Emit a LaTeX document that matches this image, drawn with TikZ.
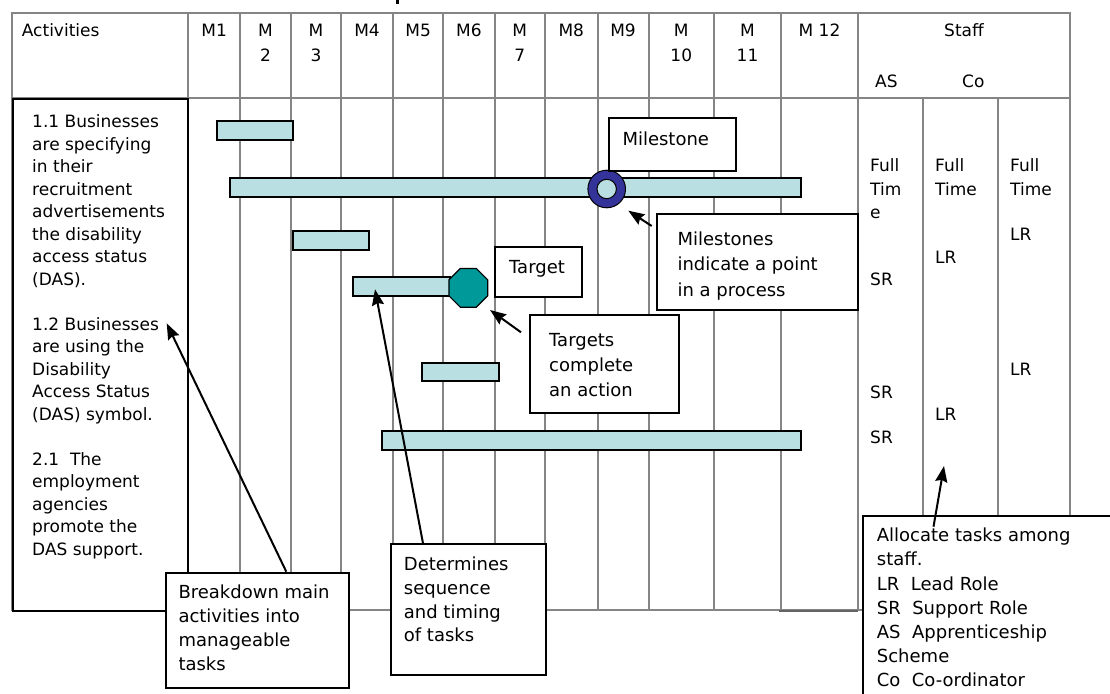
\documentclass[tikz,border=0pt]{standalone}
\usepackage{fontspec}
\setmainfont{DejaVu Sans}
\usetikzlibrary{arrows.meta,shapes.geometric}

\definecolor{gridgray}{HTML}{858585}
\definecolor{barfill}{HTML}{B9DFE2}
\definecolor{ringblue}{HTML}{333399}
\definecolor{targetteal}{HTML}{009999}

\begin{document}
\begin{tikzpicture}[x=1pt,y=-1pt,
  gridline/.style={draw=gridgray,line width=2pt},
  taskbar/.style={draw=black,fill=barfill,line width=2pt},
  panel/.style={draw=black,fill=white,line width=2pt,rectangle,inner sep=0pt,anchor=north west},
  cell/.style={font=\fontsize{17}{22.5}\selectfont,inner sep=0pt,anchor=base west},
  mcell/.style={font=\fontsize{17}{22.5}\selectfont,inner sep=0pt,anchor=base},
  notecell/.style={font=\fontsize{18}{24}\selectfont,inner sep=0pt,anchor=base west},
  para/.style={font={\fontsize{17}{#1}\selectfont},inner sep=0pt,align=left,anchor=north west},
  notepara/.style={font={\fontsize{18}{#1}\selectfont},inner sep=0pt,align=left,anchor=north west},
  pointer/.style={line width=2pt,-{Stealth[length=16pt,width=12pt,inset=2pt]}}]

\useasboundingbox (0,0) rectangle (1110,693);
\clip (0,0) rectangle (1110,693);

% descender of the heading line above the chart
\fill (395.5,0) rectangle (399,4.5);

% ---- table grid ----
\draw[gridline] (11.7,13) rectangle (1070,610);
\draw[gridline] (11.7,98.3) -- (1070,98.3);
\foreach \x in {188.3,240,291,341,393,443.3,494.5,545,597.5,648.5,714,781,858}
  \draw[gridline] (\x,13) -- (\x,610);
\foreach \x in {922.7,997.7}
  \draw[gridline] (\x,98.3) -- (\x,610);
\draw[draw=gridgray!75!black,line width=2.6pt] (779,610.8) -- (858,610.8);

% ---- header row ----
\node[cell] (hAct) at (21.7,36.7) {Activities};
\node[mcell] (hM1) at (214.2,36.7) {M1};
\node[mcell] (hM2) at (265.5,36.7) {M};
\node[mcell] (hM2n) at (265.5,61) {2};
\node[mcell] (hM3) at (316,36.7) {M};
\node[mcell] (hM3n) at (316,61) {3};
\node[mcell] (hM4) at (367,36.7) {M4};
\node[mcell] (hM5) at (418.2,36.7) {M5};
\node[mcell] (hM6) at (468.9,36.7) {M6};
\node[mcell] (hM7) at (519.8,36.7) {M};
\node[mcell] (hM7n) at (519.8,61) {7};
\node[mcell] (hM8) at (571.3,36.7) {M8};
\node[mcell] (hM9) at (623,36.7) {M9};
\node[mcell] (hM10) at (681.3,36.7) {M};
\node[mcell] (hM10n) at (681.3,61) {10};
\node[mcell] (hM11) at (747.5,36.7) {M};
\node[mcell] (hM11n) at (747.5,61) {11};
\node[mcell] (hM12) at (819.5,36.7) {M 12};
\node[mcell] (hStaff) at (964,36.7) {Staff};
\node[cell] (hAS) at (875,87.7) {AS};
\node[cell] (hCo) at (962,87.7) {Co};

% ---- activities column ----
\node[panel,minimum width=175,minimum height=511.7] (actbox) at (11.7,98.3) {};
\node[para=22.5] (acttext) at (32,111.55) {\strut 1.1 Businesses\\are specifying\\in their\\recruitment\\advertisements\\the disability\\access status\\(DAS).\\[22.5pt]1.2 Businesses\\are using the\\Disability\\Access Status\\(DAS) symbol.\\[22.5pt]2.1\ \ The\\employment\\agencies\\promote the\\DAS support.};

% ---- staff columns ----
\node[para=23.3] (asFull) at (870,155.4) {\strut Full\\Tim\\e};
\node[para=23.3] (coFull) at (935,155.4) {\strut Full\\Time};
\node[para=23.3] (c3Full) at (1010,155.4) {\strut Full\\Time};
\node[cell] (asSR1) at (870,285) {SR};
\node[cell] (asSR2) at (870,398.3) {SR};
\node[cell] (asSR3) at (870,443.3) {SR};
\node[cell] (coLR1) at (935,263.3) {LR};
\node[cell] (coLR2) at (935,420) {LR};
\node[cell] (c3LR1) at (1010,240) {LR};
\node[cell] (c3LR2) at (1010,375) {LR};

% ---- task bars ----
\draw[taskbar] (216.7,120.7) rectangle (293.3,140);
\draw[taskbar] (230,178.3) rectangle (801,196.7);
\draw[taskbar] (292.7,231) rectangle (369.3,250.3);
\draw[taskbar] (353.3,277.3) rectangle (450,295.7);
\draw[taskbar] (422.3,362.7) rectangle (499,381);
\draw[taskbar] (382,431) rectangle (801,450);

% milestone marker
\node[circle,minimum size=37.6,inner sep=0pt,fill=ringblue,draw=black,line width=1pt] (milestone) at (606.7,189) {};
\node[circle,minimum size=19.4,inner sep=0pt,fill=barfill,draw=black,line width=1pt] (milehole) at (milestone.center) {};

% target marker
\node[regular polygon,regular polygon sides=8,minimum size=41.9,inner sep=0pt,fill=targetteal,draw=black,line width=1.2pt] (target) at (468.3,287.8) {};

% ---- labels and notes ----
\node[panel,minimum width=126.7,minimum height=52.7] (msbox) at (608.3,117.3) {};
\node[notecell] (mstext) at (622.3,145) {Milestone};

\node[panel,minimum width=87,minimum height=50.3] (tgbox) at (494.3,245.7) {};
\node[notecell] (tgtext) at (509,273.3) {Target};

\node[panel,minimum width=201,minimum height=96.3] (msnote) at (656,212.7) {};
\node[notepara=25.5] (msnotetext) at (677.3,227.15) {\strut Milestones\\indicate a point\\in a process};

\node[panel,minimum width=148.7,minimum height=98] (tgnote) at (529,314.3) {};
\node[notepara=25] (tgnotetext) at (549,329.2) {\strut Targets\\complete\\an action};

\node[panel,minimum width=183.7,minimum height=115] (brknote) at (164.6,571.7) {};
\node[notepara=24] (brknotetext) at (178.3,581.2) {\strut Breakdown main\\activities into\\manageable\\tasks};

\node[panel,minimum width=155,minimum height=130.7] (seqnote) at (390.4,543.3) {};
\node[notepara=23.7] (seqnotetext) at (403.7,554.1) {\strut Determines\\sequence\\and timing\\of tasks};

\node[panel,minimum width=260,minimum height=200] (staffnote) at (862,515) {};
\node[notepara=24.05] (staffnotetext) at (876.7,524.9) {\strut Allocate tasks among\\staff.\\LR\ \ Lead Role\\SR\ \ Support Role\\AS\ \ Apprenticeship\\Scheme\\Co\ \ Co-ordinator};

% ---- pointers ----
\coordinate (brkTail) at (286.3,571.7);
\coordinate (brkTip) at (166.7,323.3);
\coordinate (seqTail) at (423,543.3);
\coordinate (seqTip) at (375,289.3);
\coordinate (msTail) at (651.7,226);
\coordinate (msTip) at (628.3,210.7);
\coordinate (tgTail) at (521,332.3);
\coordinate (tgTip) at (490,310);
\coordinate (staffTail) at (933.5,526.7);
\coordinate (staffTip) at (944,466);

\draw[pointer] (brkTail) -- (brkTip);
\draw[pointer] (seqTail) -- (seqTip);
\draw[pointer] (msTail) -- (msTip);
\draw[pointer] (tgTail) -- (tgTip);
\draw[pointer] (staffTail) -- (staffTip);
\end{tikzpicture}
\end{document}
